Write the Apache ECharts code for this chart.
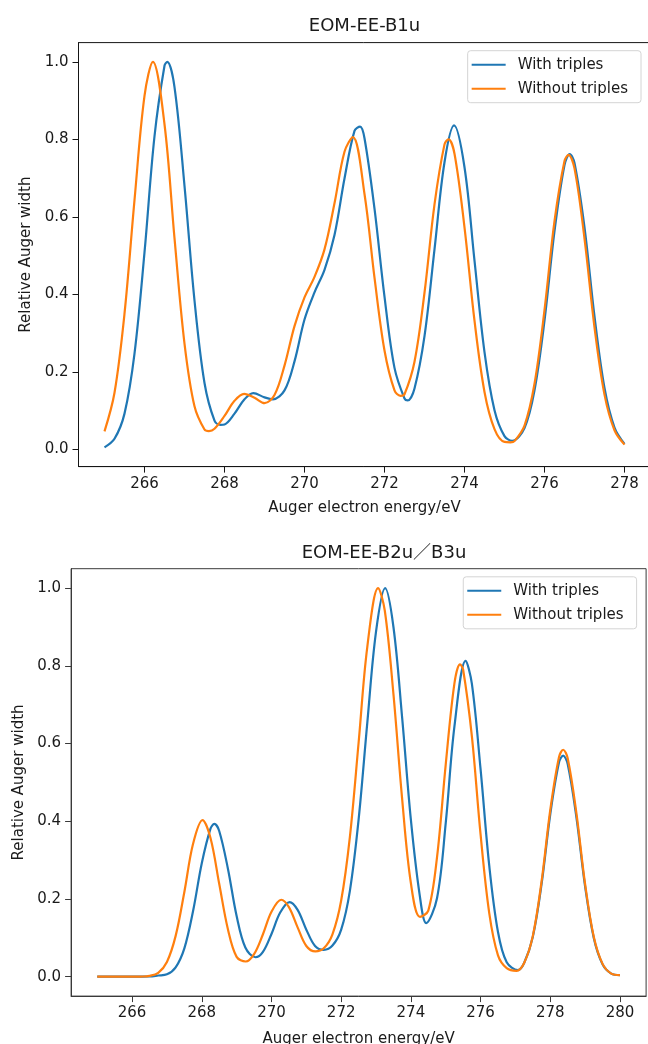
<!DOCTYPE html>
<html>
<head>
<meta charset="utf-8">
<script src="https://cdn.jsdelivr.net/npm/echarts@6/dist/echarts.min.js"></script>
<style>
  html, body { margin: 0; padding: 0; background: #ffffff; }
  #chart { width: 648px; height: 1044px; }
</style>
</head>
<body>
<div id="chart"></div>
<script>
// ---- EOM-EE-B1u spectra (Auger electron energy in eV, relative width) ----
const b1uWithX = [265, 265.25, 265.5, 265.75, 266, 266.25, 266.5, 266.57, 266.75, 267, 267.25, 267.5, 267.75, 267.9, 268, 268.25, 268.5, 268.72, 269, 269.21, 269.5, 269.75, 270, 270.25, 270.5, 270.75, 271, 271.25, 271.39, 271.5, 271.75, 272, 272.25, 272.5, 272.58, 272.75, 273, 273.25, 273.5, 273.74, 274, 274.25, 274.5, 274.75, 275, 275.19, 275.5, 275.75, 276, 276.25, 276.5, 276.63, 276.75, 277, 277.25, 277.5, 277.75, 278];
const b1uWithY = [0.005, 0.027, 0.092, 0.247, 0.508, 0.808, 0.990, 1.0, 0.935, 0.680, 0.384, 0.171, 0.074, 0.063, 0.064, 0.092, 0.129, 0.145, 0.134, 0.129, 0.152, 0.227, 0.335, 0.405, 0.463, 0.553, 0.699, 0.822, 0.833, 0.803, 0.621, 0.394, 0.210, 0.131, 0.126, 0.157, 0.292, 0.516, 0.741, 0.836, 0.728, 0.487, 0.251, 0.101, 0.034, 0.022, 0.055, 0.152, 0.332, 0.563, 0.734, 0.762, 0.739, 0.573, 0.343, 0.158, 0.056, 0.014];

const b1uWithoutX = [265, 265.25, 265.5, 265.75, 266, 266.21, 266.5, 266.75, 267, 267.25, 267.5, 267.61, 267.75, 268, 268.25, 268.49, 268.75, 269, 269.25, 269.5, 269.75, 270, 270.25, 270.5, 270.75, 271, 271.21, 271.5, 271.75, 272, 272.25, 272.4, 272.5, 272.75, 273, 273.25, 273.5, 273.6, 273.75, 274, 274.25, 274.5, 274.75, 275, 275.15, 275.25, 275.5, 275.75, 276, 276.25, 276.5, 276.6, 276.75, 277, 277.25, 277.5, 277.75, 278];
const b1uWithoutY = [0.046, 0.146, 0.350, 0.643, 0.912, 1.0, 0.839, 0.545, 0.273, 0.111, 0.051, 0.047, 0.053, 0.086, 0.125, 0.143, 0.133, 0.119, 0.140, 0.216, 0.318, 0.392, 0.445, 0.516, 0.635, 0.768, 0.806, 0.659, 0.443, 0.255, 0.152, 0.138, 0.142, 0.226, 0.404, 0.632, 0.787, 0.800, 0.763, 0.573, 0.332, 0.148, 0.052, 0.019, 0.018, 0.021, 0.061, 0.169, 0.359, 0.589, 0.744, 0.760, 0.725, 0.544, 0.315, 0.141, 0.049, 0.012];

// ---- EOM-EE-B2u/B3u spectra ----
const b2uWithX = [265, 265.5, 266, 266.5, 266.75, 267, 267.25, 267.5, 267.75, 268, 268.25, 268.36, 268.5, 268.75, 269, 269.25, 269.54, 269.75, 270, 270.25, 270.52, 270.75, 271, 271.25, 271.5, 271.75, 272, 272.25, 272.5, 272.75, 273, 273.26, 273.5, 273.75, 274, 274.25, 274.44, 274.75, 275, 275.25, 275.57, 275.75, 276, 276.25, 276.5, 276.75, 277.07, 277.25, 277.5, 277.75, 278, 278.25, 278.37, 278.5, 278.75, 279, 279.25, 279.5, 279.75, 280];
const b2uWithY = [0, 0, 0, 0.0005, 0.003, 0.006, 0.024, 0.073, 0.169, 0.292, 0.381, 0.393, 0.375, 0.278, 0.156, 0.075, 0.050, 0.063, 0.110, 0.165, 0.192, 0.172, 0.121, 0.079, 0.069, 0.080, 0.121, 0.221, 0.404, 0.654, 0.888, 1.0, 0.900, 0.666, 0.404, 0.212, 0.138, 0.202, 0.395, 0.644, 0.813, 0.754, 0.534, 0.285, 0.115, 0.037, 0.017, 0.035, 0.103, 0.238, 0.418, 0.551, 0.569, 0.547, 0.410, 0.232, 0.099, 0.032, 0.008, 0.004];

const b2uWithoutX = [265, 265.5, 266, 266.25, 266.5, 266.75, 267, 267.25, 267.5, 267.75, 268.02, 268.25, 268.5, 268.75, 269, 269.26, 269.5, 269.75, 270, 270.28, 270.5, 270.75, 271, 271.26, 271.5, 271.75, 272, 272.25, 272.5, 272.75, 273.06, 273.25, 273.5, 273.75, 274, 274.26, 274.5, 274.75, 275, 275.25, 275.41, 275.5, 275.75, 276, 276.25, 276.5, 276.75, 277.03, 277.25, 277.5, 277.75, 278, 278.25, 278.37, 278.5, 278.75, 279, 279.25, 279.5, 279.75, 280];
const b2uWithoutY = [0, 0, 0, 0.0003, 0.002, 0.010, 0.038, 0.105, 0.218, 0.342, 0.403, 0.357, 0.239, 0.122, 0.051, 0.039, 0.058, 0.108, 0.167, 0.198, 0.179, 0.127, 0.079, 0.065, 0.073, 0.109, 0.196, 0.360, 0.602, 0.849, 1.0, 0.943, 0.727, 0.457, 0.241, 0.154, 0.170, 0.307, 0.546, 0.755, 0.804, 0.790, 0.619, 0.366, 0.163, 0.055, 0.022, 0.015, 0.035, 0.105, 0.245, 0.429, 0.565, 0.584, 0.562, 0.421, 0.238, 0.102, 0.033, 0.008, 0.004];

// ---- axis ticks and labels ----
const topXTicks = [266, 268, 270, 272, 274, 276, 278];
const bottomXTicks = [266, 268, 270, 272, 274, 276, 278, 280];
const yTicks = [0, 0.2, 0.4, 0.6, 0.8, 1.0];
const seriesNames = ['With triples', 'Without triples'];
const titles = ['EOM-EE-B1u', 'EOM-EE-B2u\uFF0FB3u'];
const xAxisTitle = 'Auger electron energy/eV';
const yAxisTitle = 'Relative Auger width';

const FONT = '"DejaVu Sans", "Noto Sans CJK JP", sans-serif';
const BLUE = '#1f77b4';
const ORANGE = '#ff7f0e';

function pairs(xs, ys) { return xs.map((x, i) => [x, ys[i]]); }

function xAxisOf(gridIndex, min, max, ticks, frame, gap) {
  return {
    type: 'value', gridIndex, min, max,
    axisLine: { show: true, onZero: false, lineStyle: { color: frame, width: 1 } },
    axisTick: { show: true, length: 6, customValues: ticks, lineStyle: { color: frame, width: 1 } },
    axisLabel: { customValues: ticks, margin: 10, fontSize: 15, fontFamily: FONT, color: '#1a1a1a' },
    splitLine: { show: false },
    name: xAxisTitle, nameLocation: 'middle', nameGap: gap,
    nameTextStyle: { fontSize: 15, fontFamily: FONT, color: '#1a1a1a' }
  };
}

function yAxisOf(gridIndex, min, max, frame) {
  return {
    type: 'value', gridIndex, min, max,
    axisLine: { show: true, lineStyle: { color: frame, width: 1 } },
    axisTick: { show: true, length: 6, customValues: yTicks, lineStyle: { color: frame, width: 1 } },
    axisLabel: { customValues: yTicks, margin: 10, fontSize: 15, fontFamily: FONT, color: '#1a1a1a',
                 formatter: v => v.toFixed(1) },
    splitLine: { show: false },
    name: yAxisTitle, nameLocation: 'middle', nameGap: 44,
    nameTextStyle: { fontSize: 15, fontFamily: FONT, color: '#1a1a1a' }
  };
}

function legendOf(right, top) {
  return {
    orient: 'vertical', right, top,
    data: seriesNames,
    icon: 'rect', itemWidth: 34, itemHeight: 2, itemGap: 6,
    backgroundColor: 'rgba(255,255,255,0.8)', borderColor: '#d4d4d4', borderWidth: 1, borderRadius: 3,
    padding: [5, 13, 5, 4],
    selectedMode: false,
    textStyle: { fontSize: 15, fontFamily: FONT, color: '#1a1a1a', lineHeight: 18, padding: [0, 0, 0, 7] }
  };
}

function lineOf(name, color, xi, data) {
  return {
    type: 'line', name, xAxisIndex: xi, yAxisIndex: xi,
    data, showSymbol: false, symbol: 'none',
    smooth: 0.35,
    lineStyle: { color, width: 2.2 }, itemStyle: { color },
    emphasis: { disabled: true }
  };
}

const chart = echarts.init(document.getElementById('chart'), null, { renderer: 'canvas' });
chart.setOption({
  animation: false,
  backgroundColor: '#ffffff',
  grid: [
    { left: 78.5, top: 42.6, width: 572, height: 424, outerBoundsMode: 'none', containLabel: false,
      show: true, borderColor: '#151515', borderWidth: 1, backgroundColor: 'transparent' },
    { left: 71.1, top: 568.7, width: 575, height: 427.4, outerBoundsMode: 'none', containLabel: false,
      show: true, borderColor: '#3a3a3a', borderWidth: 1, backgroundColor: 'transparent' }
  ],
  xAxis: [
    xAxisOf(0, 264.35, 278.65, topXTicks, '#151515', 34),
    xAxisOf(1, 264.25, 280.75, bottomXTicks, '#3a3a3a', 36)
  ],
  yAxis: [
    yAxisOf(0, -0.04475, 1.04975, '#151515'),
    yAxisOf(1, -0.05, 1.05, '#3a3a3a')
  ],
  legend: [legendOf(7, 50.7), legendOf(11.4, 576.8)],
  graphic: [
    { type: 'text', x: 364.5, y: 26, style: { text: titles[0], fontSize: 18, fontFamily: FONT, fill: '#1a1a1a', textAlign: 'center', textVerticalAlign: 'middle' } },
    { type: 'text', x: 384, y: 553, style: { text: titles[1], fontSize: 18, fontFamily: FONT, fill: '#1a1a1a', textAlign: 'center', textVerticalAlign: 'middle' } }
  ],
  series: [
    lineOf(seriesNames[0], BLUE, 0, pairs(b1uWithX, b1uWithY)),
    lineOf(seriesNames[1], ORANGE, 0, pairs(b1uWithoutX, b1uWithoutY)),
    lineOf(seriesNames[0], BLUE, 1, pairs(b2uWithX, b2uWithY)),
    lineOf(seriesNames[1], ORANGE, 1, pairs(b2uWithoutX, b2uWithoutY))
  ]
});
</script>
</body>
</html>
